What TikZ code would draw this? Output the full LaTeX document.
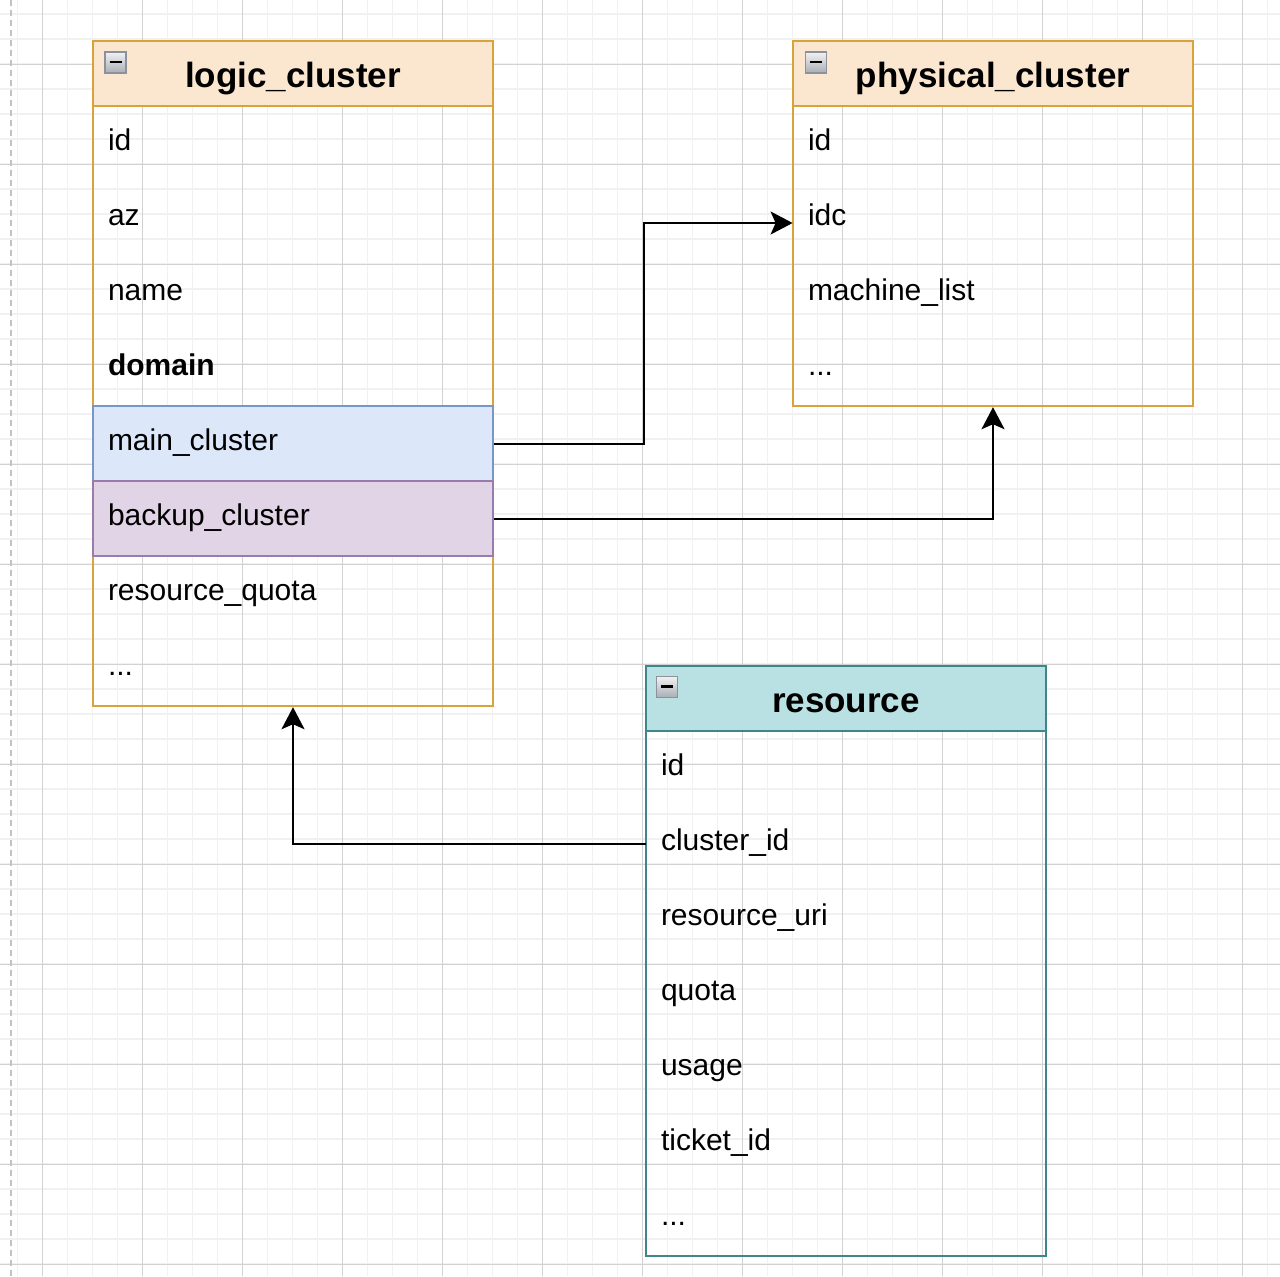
\documentclass[tikz,border=0pt]{standalone}
\usepackage{fontspec}
\setmainfont{Liberation Sans}
\usetikzlibrary{arrows.meta}

\definecolor{gridminor}{HTML}{F1F1F1}
\definecolor{gridmajor}{HTML}{D2D2D2}
\definecolor{guide}{HTML}{C2C2C2}
\definecolor{orangefill}{HTML}{FBE6CF}
\definecolor{orangeline}{HTML}{D9A33C}
\definecolor{bluefill}{HTML}{DCE8FA}
\definecolor{blueline}{HTML}{7A96C4}
\definecolor{purplefill}{HTML}{E1D4E6}
\definecolor{purpleline}{HTML}{9B7BA9}
\definecolor{tealfill}{HTML}{B9E1E3}
\definecolor{tealline}{HTML}{3D868B}
\definecolor{iconline}{HTML}{8B929E}
\definecolor{icontop}{HTML}{F2F2F2}
\definecolor{iconbottom}{HTML}{A9ADB5}

\newcommand{\fieldfont}{\fontsize{15pt}{18pt}\selectfont}
\newcommand{\titlefont}{\fontsize{17.5pt}{21pt}\selectfont\bfseries}
\newcommand{\minusbar}{\textcolor{black}{\rule[0.4pt]{6pt}{1.2pt}}}

\tikzset{
  field/.style={minimum width=200pt, minimum height=37.5pt, inner xsep=7.5pt,
    inner ysep=0pt, text width=185pt, align=left, text height=10pt,
    text depth=3.5pt, font=\fieldfont},
  title/.style={minimum width=200pt, minimum height=32.5pt, inner sep=0pt,
    text height=16pt, text depth=2.5pt, align=center, font=\titlefont,
    line width=1.2pt},
  tablebody/.style={draw, minimum width=200pt, inner sep=0pt, line width=1.2pt},
  mark row/.style={draw=#1, line width=1.2pt},
  icon/.style={minimum size=10.5pt, inner sep=0pt, draw=iconline, line width=0.8pt,
    top color=icontop, bottom color=iconbottom},
  conn/.style={draw, line width=1pt,
    -{Stealth[length=11pt, width=11.5pt, inset=2.5pt]}}
}

\begin{document}
\begin{tikzpicture}[x=0.5pt, y=-0.5pt]
  \useasboundingbox (0,0) rectangle (1280,1276);

  % background grid
  \foreach \gx in {0,...,50} \draw[gridminor, line width=0.7pt] (17.5+25*\gx,0) -- (17.5+25*\gx,1276);
  \foreach \gy in {0,...,50} \draw[gridminor, line width=0.7pt] (0,14+25*\gy) -- (1280,14+25*\gy);
  \foreach \gx in {0,...,12} \draw[gridmajor, line width=0.5pt] (42.5+100*\gx,0) -- (42.5+100*\gx,1276);
  \foreach \gy in {0,...,12} \draw[gridmajor, line width=0.5pt] (0,64+100*\gy) -- (1280,64+100*\gy);
  \draw[guide, line width=1pt, dash pattern=on 3pt off 2pt] (11,0) -- (11,1276);

  % ---- logic_cluster ----
  \node[title, fill=orangefill, draw=orangeline] (lhead) at (293,73.5) {logic\_cluster};
  \node[tablebody, draw=orangeline, minimum height=300pt] (lbody) at (293,406) {};
  \node[icon] (licon) at (115.5,62.5) {\minusbar};
  \node[field] (lid) at (293,143.5) {id};
  \node[field] (laz) at (293,218.5) {az};
  \node[field] (lname) at (293,293.5) {name};
  \node[field] (ldomain) at (293,368.5) {\bfseries domain};
  \node[field, mark row=blueline, fill=bluefill] (lmain) at (293,443.5) {main\_cluster};
  \node[field, mark row=purpleline, fill=purplefill] (lbackup) at (293,518.5) {backup\_cluster};
  \node[field] (lquota) at (293,593.5) {resource\_quota};
  \node[field] (lmore) at (293,668.5) {...};

  % ---- physical_cluster ----
  \node[title, fill=orangefill, draw=orangeline] (phead) at (993,73.5) {physical\_cluster};
  \node[tablebody, draw=orangeline, minimum height=150pt] (pbody) at (993,256) {};
  \node[icon] (picon) at (816,62.5) {\minusbar};
  \node[field] (pid) at (993,143.5) {id};
  \node[field] (pidc) at (993,218.5) {idc};
  \node[field] (pmachines) at (993,293.5) {machine\_list};
  \node[field] (pmore) at (993,368.5) {...};

  % ---- resource ----
  \node[title, fill=tealfill, draw=tealline] (rhead) at (846,698.5) {resource};
  \node[tablebody, draw=tealline, minimum height=262.5pt] (rbody) at (846,993.5) {};
  \node[icon] (ricon) at (667,687) {\minusbar};
  \node[field] (rid) at (846,768.5) {id};
  \node[field] (rcid) at (846,843.5) {cluster\_id};
  \node[field] (ruri) at (846,918.5) {resource\_uri};
  \node[field] (rquota) at (846,993.5) {quota};
  \node[field] (rusage) at (846,1068.5) {usage};
  \node[field] (rticket) at (846,1143.5) {ticket\_id};
  \node[field] (rmore) at (846,1218.5) {...};

  % ---- references ----
  \draw[conn] (lmain.east) -- ++(150,0) |- ([yshift=-2.25pt]pidc.west);
  \draw[conn] (lbackup.east) -| (pbody.south);
  \draw[conn] (rcid.west) -| (lbody.south);
\end{tikzpicture}
\end{document}
